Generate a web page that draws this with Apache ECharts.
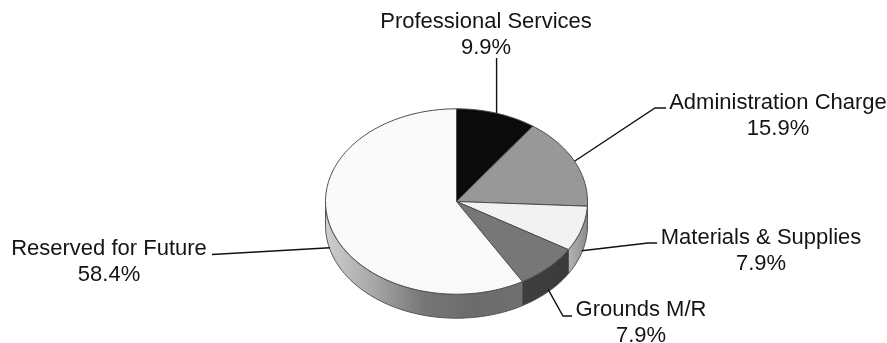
<!DOCTYPE html>
<html>
<head>
<meta charset="utf-8">
<style>html,body{margin:0;padding:0;background:#fff}#chart{width:887px;height:343px}</style>
<script src="https://cdn.jsdelivr.net/npm/echarts@6/dist/echarts.min.js"></script>
</head>
<body>
<div id="chart"></div>
<script>
// Budget shares, clockwise from twelve o'clock
const categories = ['Professional Services', 'Administration Charge', 'Materials & Supplies', 'Grounds M/R', 'Reserved for Future'];
const shares = [9.9, 15.9, 7.9, 7.9, 58.4];

// Disc geometry: elliptical top face plus a visible rim below it
const disc = { cx: 456.5, cy: 201.5, rx: 131, ry: 92.7, depth: 24 };

// Face shade per slice, with the faint weave that overlays it
const faceColors = ['#0a0a0a', '#999999', '#f3f3f3', '#787878', '#fbfbfb'];
const weaveColors = ['#111111', '#919191', '#e9e9e9', '#707070', '#f2f2f2'];
// Rim shading, left to right
const rimStops = [
  ['#444444', '#444444'],
  ['#8a8a8a', '#8a8a8a'],
  ['#b4b4b4', '#8c8c8c'],
  ['#3e3e3e', '#3a3a3a'],
  ['#cfcfcf', '#a6a6a6', '#767676', '#6c6c6c', '#707070']
];

// Label centres and leader-line routing
const labelCentres = [[486, 35], [778, 116], [761, 251], [641, 323], [109, 262]];
const leaderBends = [[], [[655, 108], [666, 108]], [[648, 243], [657, 243]], [[563, 316], [572, 316]], [[212, 254.5]]];

function makeWeave(base, dot) {
  const c = document.createElement('canvas');
  c.width = c.height = 4;
  const g = c.getContext('2d');
  g.fillStyle = base;
  g.fillRect(0, 0, 4, 4);
  g.fillStyle = dot;
  g.fillRect(0, 0, 1, 1);
  g.fillRect(2, 2, 1, 1);
  return c;
}

const total = shares.reduce((a, b) => a + b, 0);
const edgePoint = (deg, drop) => {
  const t = deg * Math.PI / 180;
  return [disc.cx + disc.rx * Math.sin(t), disc.cy - disc.ry * Math.cos(t) + (drop || 0)];
};
const arcPoints = (from, to, drop) => {
  const pts = [];
  const n = Math.max(2, Math.ceil(Math.abs(to - from) / 1.5));
  for (let i = 0; i <= n; i++) pts.push(edgePoint(from + (to - from) * i / n, drop));
  return pts;
};

let running = 0;
const startAngles = shares.map(v => { const s = running; running += v / total * 360; return s; });

function renderSlice(params, api) {
  const i = params.dataIndex;
  const value = api.value(0);
  const a0 = startAngles[i];
  const a1 = a0 + value / total * 360;
  const mid = (a0 + a1) / 2;
  const children = [];

  // Rim: only the part of the edge facing the viewer
  const r0 = Math.max(a0, 90), r1 = Math.min(a1, 270);
  if (r1 > r0) {
    const stops = rimStops[i];
    children.push({
      type: 'polygon',
      shape: { points: arcPoints(r0, r1).concat(arcPoints(r1, r0, disc.depth)) },
      style: {
        fill: new echarts.graphic.LinearGradient(0, 0, 1, 0,
          stops.map((color, k) => ({ offset: k / (stops.length - 1), color }))),
        stroke: '#555555', lineWidth: 1
      }
    });
  }

  // Top face
  children.push({
    type: 'polygon',
    shape: { points: [[disc.cx, disc.cy]].concat(arcPoints(a0, a1)) },
    style: {
      fill: { image: makeWeave(faceColors[i], weaveColors[i]), repeat: 'repeat' },
      stroke: '#4d4d4d', lineWidth: 1
    }
  });

  // Leader from the slice's mid-angle out to its label
  const facingViewer = mid > 90 && mid < 270;
  const anchor = edgePoint(mid, facingViewer ? disc.depth - 2 : 0);
  const route = i === 0 ? [anchor, [anchor[0], 58]] : [anchor].concat(leaderBends[i]);
  children.push({
    type: 'polyline',
    shape: { points: route },
    style: { fill: null, stroke: '#111111', lineWidth: 1.4 }
  });

  // Name and share
  children.push({
    type: 'text',
    x: labelCentres[i][0],
    y: labelCentres[i][1],
    style: {
      text: categories[i] + '\n' + value.toFixed(1) + '%',
      fontFamily: '"Liberation Sans", Arial, sans-serif',
      fontSize: 22,
      lineHeight: 25.5,
      align: 'center',
      verticalAlign: 'middle',
      fill: '#141414'
    }
  });

  return { type: 'group', children };
}

const chart = echarts.init(document.getElementById('chart'), null, { renderer: 'canvas' });
chart.setOption({
  animation: false,
  backgroundColor: '#ffffff',
  series: [{
    type: 'custom',
    coordinateSystem: 'none',
    silent: true,
    renderItem: renderSlice,
    data: shares.map((v, i) => ({ name: categories[i], value: [v] }))
  }]
});
</script>
</body>
</html>
